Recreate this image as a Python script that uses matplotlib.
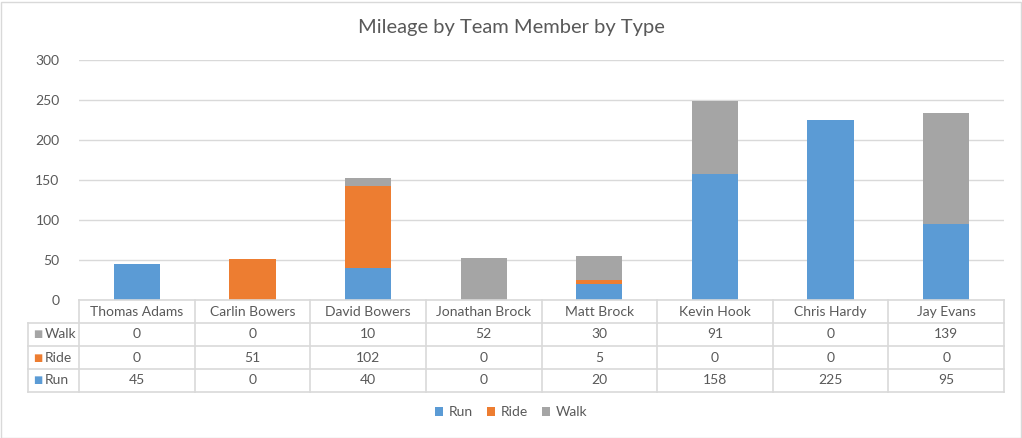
import matplotlib.pyplot as plt
from matplotlib.patches import Rectangle
import numpy as np

# 数据
members = ['Thomas Adams', 'Carlin Bowers', 'David Bowers', 'Jonathan Brock',
           'Matt Brock', 'Kevin Hook', 'Chris Hardy', 'Jay Evans']
run = [45, 0, 40, 0, 20, 158, 225, 95]
ride = [0, 51, 102, 0, 5, 0, 0, 0]
walk = [0, 0, 10, 52, 30, 91, 0, 139]
y_ticks = [0, 50, 100, 150, 200, 250, 300]

c_run = '#5B9BD5'
c_ride = '#ED7D31'
c_walk = '#A5A5A5'
grid_c = '#D9D9D9'
txt_c = '#595959'
plt.rcParams['font.family'] = ['Lato', 'DejaVu Sans']

W, H = 1022, 438
fig = plt.figure(figsize=(W / 100, H / 100), dpi=100)

# 图表区边框
fig.patches.append(Rectangle((0.5 / W, 0.5 / H), (W - 2) / W, (H - 2) / H,
                             transform=fig.transFigure, fill=False,
                             edgecolor='#D9D9D9', linewidth=1))

x0, x1 = 79, 1004
ax = fig.add_axes([x0 / W, (H - 300) / H, (x1 - x0) / W, 240 / H])
x = np.arange(len(members))
ax.bar(x, run, width=0.4, color=c_run, label='Run', zorder=3)
ax.bar(x, ride, width=0.4, bottom=run, color=c_ride, label='Ride', zorder=3)
bottom2 = [a + b for a, b in zip(run, ride)]
ax.bar(x, walk, width=0.4, bottom=bottom2, color=c_walk, label='Walk', zorder=3)
ax.set_xlim(-0.5, len(members) - 0.5)
ax.set_ylim(0, 300)
ax.set_yticks(y_ticks)
ax.set_xticks([])
ax.yaxis.grid(True, color=grid_c, linewidth=1, zorder=0)
for s in ax.spines.values():
    s.set_visible(False)
ax.tick_params(axis='y', length=0, pad=14, labelsize=10, labelcolor=txt_c)

fig.text(0.5, (H - 28) / H, 'Mileage by Team Member by Type', ha='center',
         va='center', fontsize=14.5, color=txt_c)

# 数据表
tax = fig.add_axes([x0 / W, (H - 392) / H, (x1 - x0) / W, 92 / H])
tax.set_xlim(-0.5, len(members) - 0.5)
tax.set_ylim(4, 0)
tax.axis('off')
unit = (x1 - x0) / len(members)
left = -0.5 - 51 / unit
right = len(members) - 0.5
lw = 1.2
# 横线
tax.plot([-0.5, right], [0, 0], color=grid_c, lw=lw, clip_on=False)
for r in [1, 2, 3, 4]:
    tax.plot([left, right], [r, r], color=grid_c, lw=lw, clip_on=False)
# 竖线
tax.plot([left, left], [1, 4], color=grid_c, lw=lw, clip_on=False)
for i in range(len(members) + 1):
    tax.plot([i - 0.5, i - 0.5], [0, 4], color=grid_c, lw=lw, clip_on=False)

rows = [('Walk', walk, c_walk), ('Ride', ride, c_ride), ('Run', run, c_run)]
for i, m in enumerate(members):
    tax.text(i, 0.5, m, ha='center', va='center', fontsize=10, color=txt_c)
for r, (name, vals, col) in enumerate(rows, start=1):
    tax.text(left + 5 / unit, r + 0.5, '\u25A0', ha='left', va='center',
             fontsize=7, color=col, family=['DejaVu Sans'])
    tax.text(left + 17 / unit, r + 0.5, name, ha='left', va='center',
             fontsize=10, color=txt_c)
    for i, v in enumerate(vals):
        tax.text(i, r + 0.5, str(v), ha='center', va='center',
                 fontsize=10, color=txt_c)

# 图例
handles, labels = ax.get_legend_handles_labels()
fig.legend(handles, labels, loc='center', bbox_to_anchor=(0.5, (H - 412) / H),
           ncol=3, frameon=False, fontsize=10, handlelength=0.6,
           handleheight=0.6, handletextpad=0.4, columnspacing=1.0,
           labelcolor=txt_c)

fig.savefig('out.png', dpi=100)
